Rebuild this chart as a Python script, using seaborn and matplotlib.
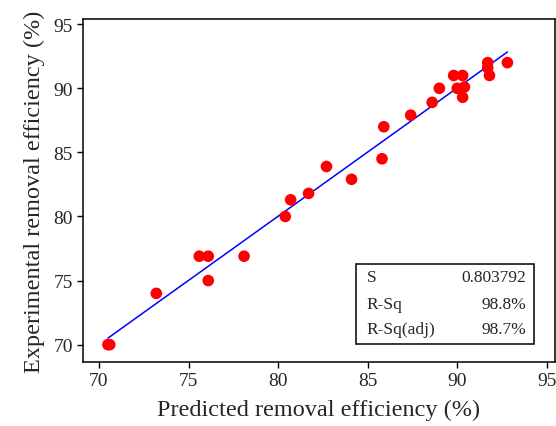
import numpy as np
import pandas as pd
import seaborn as sns
import matplotlib
matplotlib.use('Agg')
import matplotlib.pyplot as plt

# predicted vs experimental removal efficiency (%)
predicted = [70.5, 70.6, 73.2, 75.6, 76.1, 76.1, 78.1, 80.4, 80.7, 81.7,
             82.7, 84.1, 85.8, 85.9, 87.4, 88.6, 89.0, 89.8, 90.0, 90.3,
             90.4, 90.3, 91.7, 91.7, 91.8, 92.8]
experimental = [70.0, 70.0, 74.0, 76.9, 76.9, 75.0, 76.9, 80.0, 81.3, 81.8,
                83.9, 82.9, 84.5, 87.0, 87.9, 88.9, 90.0, 91.0, 90.0, 91.0,
                90.1, 89.3, 92.0, 91.6, 91.0, 92.0]

stat_names = ['S', 'R-Sq', 'R-Sq(adj)']
stat_values = ['0.803792', '98.8%', '98.7%']

df = pd.DataFrame({'pred': predicted, 'exp': experimental})

sns.set_style('ticks')
plt.rcParams['font.family'] = ['Liberation Serif', 'DejaVu Serif']

fig, ax = plt.subplots(figsize=(5.56, 4.27), dpi=100)
fig.subplots_adjust(left=0.149, right=0.998, top=0.953, bottom=0.150)

sns.regplot(data=df, x='pred', y='exp', ci=None, scatter=False, ax=ax,
            line_kws={'color': '#0000ff', 'lw': 1.1})
sns.scatterplot(data=df, x='pred', y='exp', ax=ax, color='#ff0000',
                s=70, edgecolor='none', zorder=3)

ax.set_xlim(69.1, 95.45)
ax.set_ylim(68.65, 95.4)
ax.set_xticks([70, 75, 80, 85, 90, 95])
ax.set_yticks([70, 75, 80, 85, 90, 95])
ax.tick_params(labelsize=14, length=4, width=1, color='black', pad=3,
               top=False, right=False)
for sp in ax.spines.values():
    sp.set_color('black')
    sp.set_linewidth(1.1)

ax.set_xlabel('Predicted removal efficiency (%)', fontsize=17.5, labelpad=7)
ax.set_ylabel('Experimental removal efficiency (%)', fontsize=17.5, labelpad=6)

# summary box
box = plt.Rectangle((0.578, 0.052), 0.377, 0.235, transform=ax.transAxes,
                    fill=False, edgecolor='black', lw=1.1, zorder=4)
ax.add_patch(box)
row_y = [0.249, 0.170, 0.097]
for name, val, y in zip(stat_names, stat_values, row_y):
    ax.text(0.601, y, name, transform=ax.transAxes, fontsize=12.5,
            va='center', ha='left', zorder=5)
    ax.text(0.940, y, val, transform=ax.transAxes, fontsize=12.5,
            va='center', ha='right', zorder=5)

fig.savefig('out.png', dpi=100)
